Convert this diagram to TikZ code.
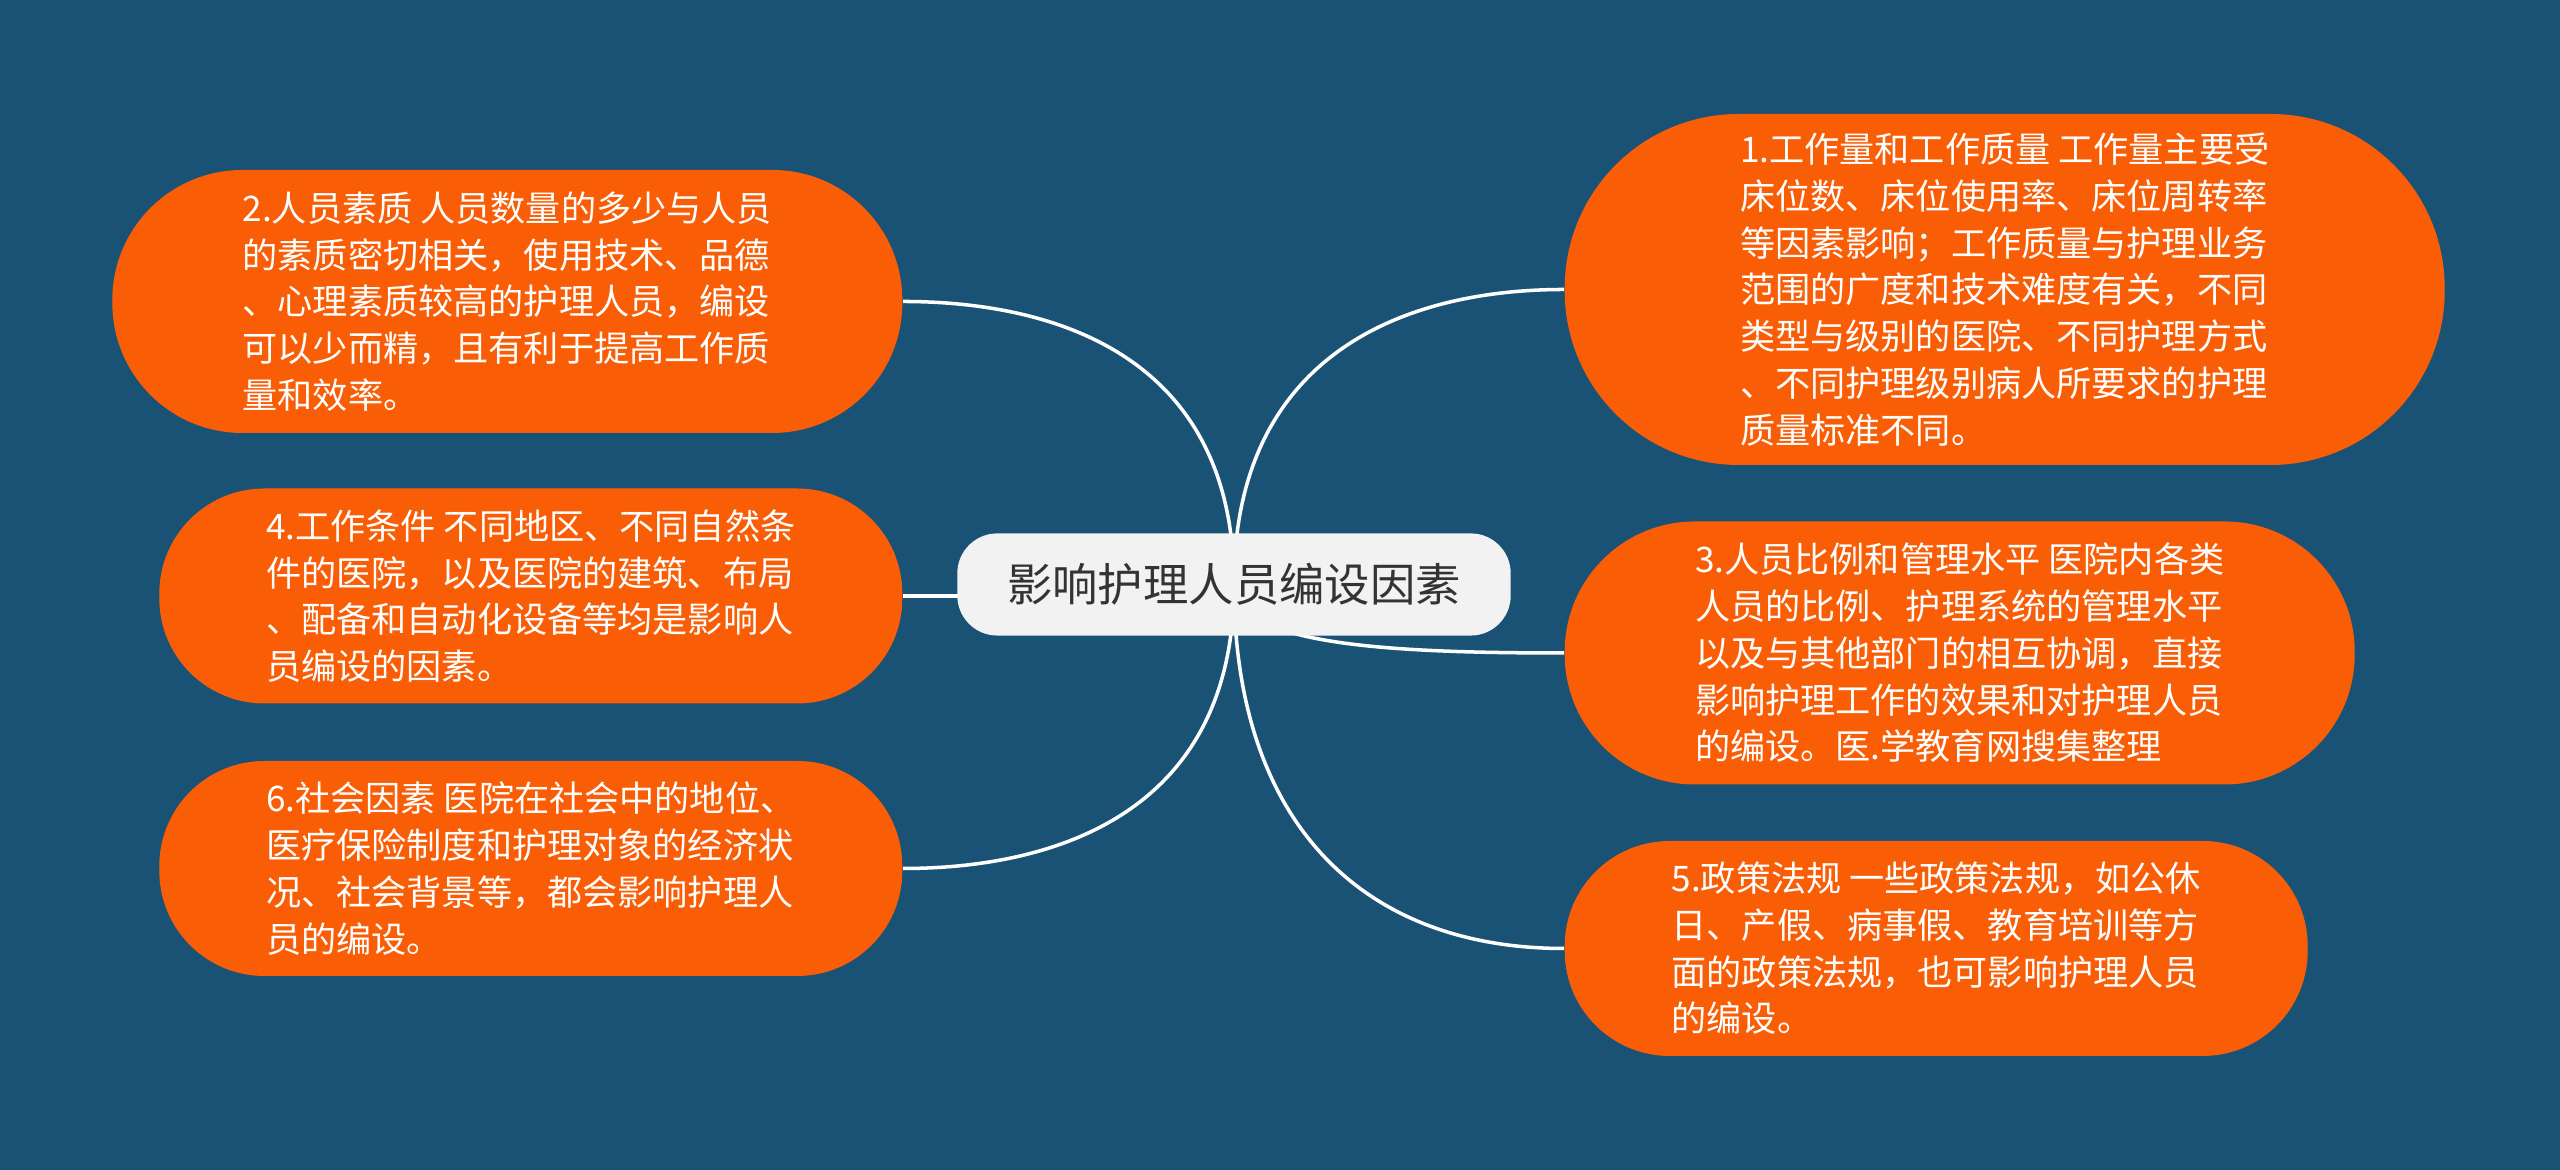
\documentclass[tikz,border=0pt]{standalone}
\usepackage{fontspec}
\newfontfamily\cjk{Noto Sans CJK SC}
\usetikzlibrary{backgrounds}
\definecolor{bgblue}{HTML}{1A5276}
\definecolor{leaforange}{HTML}{F95E06}
\definecolor{rootgray}{HTML}{F2F2F2}
\definecolor{roottext}{HTML}{333333}

\begin{document}
\begin{tikzpicture}[
  leaf/.style={rectangle,fill=leaforange,text=white,align=left,inner sep=0pt,
    font=\cjk\fontsize{10pt}{13.3pt}\selectfont},
  short4/.style={leaf,minimum width=7.43cm,minimum height=2.15cm,rounded corners=1.05cm},
  mid5/.style={leaf,minimum width=7.9cm,minimum height=2.63cm,rounded corners=1.3cm},
  tall7/.style={leaf,minimum width=8.8cm,minimum height=3.51cm,rounded corners=1.74cm},
  root/.style={rectangle,rounded corners=0.4cm,fill=rootgray,text=roottext,
    inner xsep=0.5cm,inner ysep=0.3cm,font=\cjk\fontsize{12.9pt}{15pt}\selectfont},
  link/.style={draw=white,line width=1pt}]
\useasboundingbox (0,0) rectangle (25.6,11.7);
\node[root] (c) at (12.34,5.855) {影响护理人员编设因素};
%
\node[mid5,anchor=east] (n2) at (9.03,8.685) {2.人员素质 人员数量的多少与人员\\的素质密切相关，使用技术、品德\\、心理素质较高的护理人员，编设\\可以少而精，且有利于提高工作质\\量和效率。};
\node[short4,anchor=east] (n4) at (9.03,5.74) {4.工作条件 不同地区、不同自然条\\件的医院，以及医院的建筑、布局\\、配备和自动化设备等均是影响人\\员编设的因素。};
\node[short4,anchor=east] (n6) at (9.03,3.015) {6.社会因素 医院在社会中的地位、\\医疗保险制度和护理对象的经济状\\况、社会背景等，都会影响护理人\\员的编设。};
%
\node[tall7,anchor=west] (n1) at (15.64,8.805) {1.工作量和工作质量 工作量主要受\\床位数、床位使用率、床位周转率\\等因素影响；工作质量与护理业务\\范围的广度和技术难度有关，不同\\类型与级别的医院、不同护理方式\\、不同护理级别病人所要求的护理\\质量标准不同。};
\node[mid5,anchor=west] (n3) at (15.64,5.17) {3.人员比例和管理水平 医院内各类\\人员的比例、护理系统的管理水平\\以及与其他部门的相互协调，直接\\影响护理工作的效果和对护理人员\\的编设。医.学教育网搜集整理};
\node[short4,anchor=west] (n5) at (15.64,2.215) {5.政策法规 一些政策法规，如公休\\日、产假、病事假、教育培训等方\\面的政策法规，也可影响护理人员\\的编设。};
%
\begin{scope}[on background layer]
\fill[bgblue] (0,0) rectangle (25.6,11.7);
\draw[link] (c.center) .. controls +(0,2.3) and +(1.5,0) .. (n2.east);
\draw[link] (n4.east) -- (n4.east -| c.center);
\draw[link] (c.center) .. controls +(0,-2.3) and +(1.5,0) .. (n6.east);
\draw[link] (c.center) .. controls +(0,2.3) and +(-1.6,0) .. (n1.west);
\draw[link] (c.center) .. controls +(0,-0.6) and +(-1.8,0) .. (n3.west);
\draw[link] (c.center) .. controls +(0,-2.4) and +(-2.0,0) .. (n5.west);
\end{scope}
\end{tikzpicture}
\end{document}
